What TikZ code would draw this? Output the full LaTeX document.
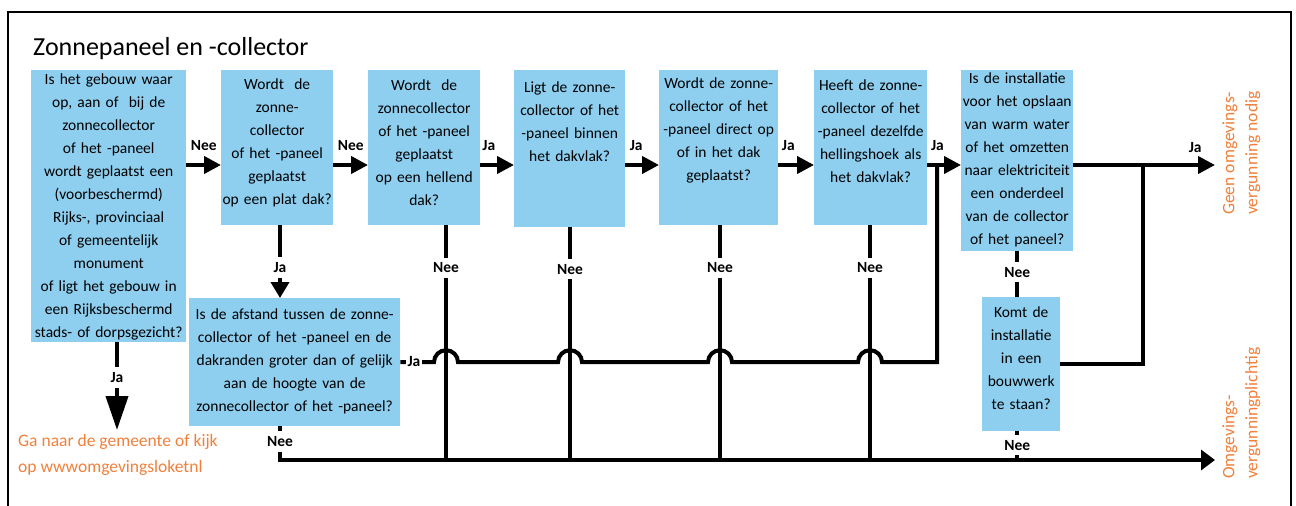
\documentclass[tikz,border=0pt]{standalone}
\usepackage{fontspec}
\setmainfont{Carlito}
\usetikzlibrary{arrows.meta}
\definecolor{boxblue}{RGB}{142,207,240}
\definecolor{uitkomst}{RGB}{240,128,60}
\tikzset{>={Triangle[length=17pt,width=17pt]},
  qbox/.style={fill=boxblue, align=center, inner xsep=0pt, inner ysep=0pt, anchor=north west, font=\fontsize{15.5}{23}\selectfont},
  pijl/.style={line width=4pt, ->},
  lijn/.style={line width=4pt},
  lbl/.style={font=\bfseries\fontsize{15.5}{18}\selectfont, inner sep=2pt},
  gat/.style={lbl, fill=white, inner ysep=5pt},
  uit/.style={text=uitkomst, align=left, inner sep=0pt, font=\fontsize{17.5}{23}\selectfont}}

\begin{document}
\begin{tikzpicture}[x=1pt,y=-1pt]
     \useasboundingbox (0,0) rectangle (1296,506);
     \draw[line width=1.2pt] (8,520) -- (8,12) -- (1291,12) -- (1291,520);
     \node[anchor=base west, inner sep=0pt, font=\fontsize{26}{30}\selectfont] (titel) at (33,55) {Zonnepaneel en -collector};

     \node[qbox, text width=155pt, text height=14pt, text depth=258pt] (b1) at (31,70) {Is het gebouw waar\\op, aan of\ \ bij de\\zonnecollector\\of het -paneel\\wordt geplaatst een\\(voorbeschermd)\\Rijks-, provinciaal\\of gemeentelijk\\monument\\of ligt het gebouw in\\een Rijksbeschermd\\stads- of dorpsgezicht?};
     \node[qbox, text width=112pt, text height=19pt, text depth=136pt] (b2) at (221,70) {Wordt\ \ de\\zonne-\\collector\\of het -paneel\\geplaatst\\op een plat dak?};
     \node[qbox, text width=112pt, text height=20pt, text depth=135pt] (b3) at (368,70) {Wordt\ \ de\\zonnecollector\\of het -paneel\\geplaatst\\op een hellend\\dak?};
     \node[qbox, text width=111pt, text height=22pt, text depth=135pt] (b4) at (514,70) {Ligt de zonne-\\collector of het\\-paneel binnen\\het dakvlak?};
     \node[qbox, text width=119pt, text height=18pt, text depth=137pt] (b5) at (659,70) {Wordt de zonne-\\collector of het\\-paneel direct op\\of in het dak\\geplaatst?};
     \node[qbox, text width=113pt, text height=20pt, text depth=135pt] (b6) at (814,70) {Heeft de zonne-\\collector of het\\-paneel dezelfde\\hellingshoek als\\het dakvlak?};
     \node[qbox, text width=112pt, text height=13pt, text depth=168pt] (b7) at (961,70) {Is de installatie\\voor het opslaan\\van warm water\\of het omzetten\\naar elektriciteit\\een onderdeel\\van de collector\\of het paneel?};
     \node[qbox, text width=78pt, text height=20pt, text depth=114pt] (b8) at (982,297) {Komt de\\installatie\\in een\\bouwwerk\\te staan?};
     \node[qbox, text width=211pt, text height=21pt, text depth=107pt] (b9) at (189,298) {Is de afstand tussen de zonne-\\collector of het -paneel en de\\dakranden groter dan of gelijk\\aan de hoogte van de\\zonnecollector of het -paneel?};

     \coordinate (rij) at (0,165);
     \coordinate (geen) at (1215,165);
     \coordinate (omg) at (1215,460);
     \coordinate (ga) at (117,430);
     \coordinate (d2) at (280,460);
     \coordinate (jl) at (937,165);
     \coordinate (jr) at (1143,165);
     \coordinate (n3) at (446,460);
     \coordinate (n4) at (570,460);
     \coordinate (n5) at (720,460);
     \coordinate (n6) at (870,460);

     \draw[pijl] (b1.east |- rij) -- node[lbl, above=10pt] {Nee} (b2.west |- rij);
     \draw[pijl] (b2.east |- rij) -- node[lbl, above=10pt] {Nee} (b3.west |- rij);
     \draw[pijl] (b3.east |- rij) -- node[lbl, above=10pt, pos=0.25] {Ja} (b4.west |- rij);
     \draw[pijl] (b4.east |- rij) -- node[lbl, above=10pt, pos=0.32] {Ja} (b5.west |- rij);
     \draw[pijl] (b5.east |- rij) -- node[lbl, above=10pt, pos=0.28] {Ja} (b6.west |- rij);
     \draw[pijl] (b6.east |- rij) -- node[lbl, above=10pt, pos=0.3] {Ja} (b7.west |- rij);
     \draw[pijl] (b7.east |- rij) -- node[lbl, above=8pt, pos=0.86] {Ja} (geen);

     \draw[lijn, -{Triangle[length=34pt,width=22pt]}] (b1.south -| ga) -- node[gat, pos=0.4] {Ja} (ga);
     \draw[lijn, -{Triangle[length=16pt,width=18pt]}] (b2.south -| d2) -- node[gat, pos=0.58] {Ja} (b9.north -| d2);
     \draw[lijn, -{Triangle[length=14pt,width=20pt]}] (b9.south -| d2) -- node[gat, pos=0.45] {Nee} (d2) -- (omg);
     \foreach \b/\n in {b3/n3, b4/n4, b5/n5, b6/n6}
       \draw[lijn] (\b.south -| \n) -- node[gat, pos=0.18] {Nee} (\n);

     \draw[lijn] (b9.east) -- ([xshift=-12pt]n3 |- b9.east) arc[start angle=180, end angle=0, radius=12pt]
       -- ([xshift=-12pt]n4 |- b9.east) arc[start angle=180, end angle=0, radius=12pt]
       -- ([xshift=-12pt]n5 |- b9.east) arc[start angle=180, end angle=0, radius=12pt]
       -- ([xshift=-12pt]n6 |- b9.east) arc[start angle=180, end angle=0, radius=12pt]
       -- (jl |- b9.east) -- (jl);
     \node[gat, inner ysep=2pt] (ja9) at (414,362) {Ja};

     \draw[lijn] (b7.south) -- node[gat, pos=0.46] {Nee} (b7.south |- b8.north);
     \draw[lijn] (b7.south |- b8.south) -- node[gat, pos=0.48] {Nee} (b7.south |- omg);
     \draw[lijn] (b8.east) -| (jr);

     \node[uit, anchor=north west, font=\fontsize{17.5}{26}\selectfont] (gatekst) at (18,434) {Ga naar de gemeente of kijk\\op wwwomgevingsloketnl};
     \node[uit, rotate=90, anchor=north west] (geentekst) at (1222,215) {Geen omgevings-\\vergunning nodig};
     \node[uit, rotate=90, anchor=north west] (omgtekst) at (1222,479) {Omgevings-\\vergunningplichtig};
\end{tikzpicture}
\end{document}
